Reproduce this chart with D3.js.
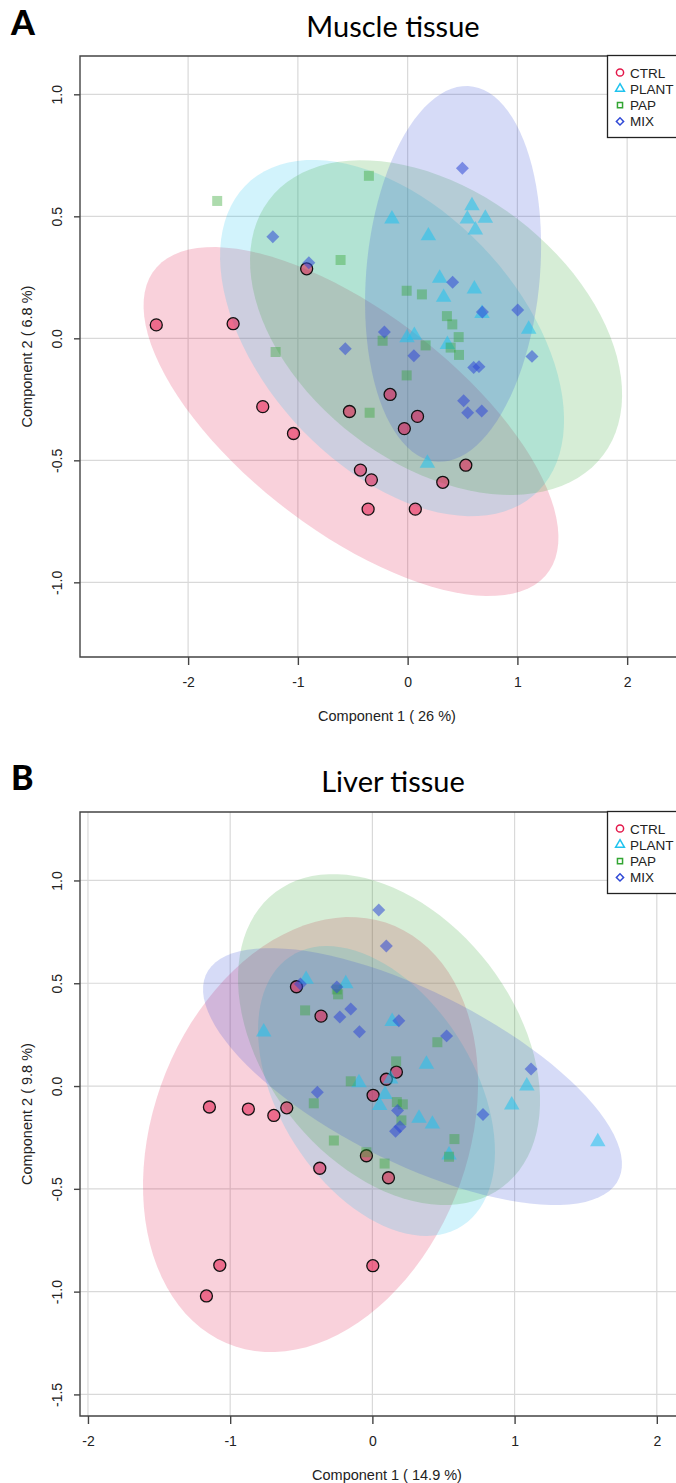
<!DOCTYPE html>
<html>
<head>
<meta charset="utf-8">
<script src="https://cdn.jsdelivr.net/npm/d3@7"></script>
<style>
  body { margin: 0; background: #fff; }
  svg { display: block; }
</style>
</head>
<body>
<div id="root"></div>
<script>
const W = 676, H = 1483;

const groups = ["CTRL", "PLANT", "PAP", "MIX"];
const groupColors = ["#e3184a", "#1fc3ee", "#33a633", "#3049d6"];

// panel A - muscle tissue, [component 1, component 2]
const muscleCTRL = [[-2.29, 0.055], [-1.59, 0.06], [-0.92, 0.285], [-1.32, -0.28], [-1.04, -0.39],
    [-0.53, -0.30], [-0.16, -0.23], [0.09, -0.32], [-0.03, -0.37], [-0.43, -0.54],
    [-0.33, -0.58], [-0.36, -0.70], [0.07, -0.70], [0.53, -0.52], [0.32, -0.59]];
const musclePLANT = [[0.586, 0.543], [-0.143, 0.489], [0.544, 0.489], [0.708, 0.492], [0.617, 0.444],
    [0.189, 0.420], [0.292, 0.246], [0.608, 0.202], [0.328, 0.168], [0.677, 0.102],
    [1.103, 0.037], [-0.006, 0.002], [0.061, 0.012], [0.362, -0.025], [0.180, -0.512]];
const musclePAP = [[-1.735, 0.563], [-0.353, 0.666], [-0.611, 0.321], [-1.203, -0.056], [-0.009, 0.195],
    [0.130, 0.180], [0.358, 0.091], [0.407, 0.057], [0.465, 0.005], [-0.228, -0.010],
    [0.164, -0.029], [0.392, -0.038], [0.468, -0.068], [-0.009, -0.152], [-0.346, -0.305]];
const muscleMIX = [[-1.228, 0.416], [-0.900, 0.310], [-0.568, -0.043], [0.499, 0.697], [0.410, 0.230],
    [0.681, 0.108], [1.003, 0.116], [-0.212, 0.026], [0.057, -0.071], [0.602, -0.120],
    [0.650, -0.116], [1.133, -0.074], [0.510, -0.256], [0.547, -0.305], [0.675, -0.298]];
// ellipses: [centre x, centre y, half width, half height, correlation]
const muscleEllipses = [[-0.516, -0.341, 1.890, 0.715, -0.665], [-0.142, 0.001, 1.567, 0.730, -0.46],
    [0.259, 0.044, 1.695, 0.686, -0.40], [0.414, 0.264, 0.802, 0.770, 0.15]];

// panel B - liver tissue
const liverCTRL = [[-0.534, 0.483], [-0.361, 0.340], [0.098, 0.033], [0.169, 0.068], [0.005, -0.045],
    [-1.146, -0.102], [-0.872, -0.112], [-0.693, -0.143], [-0.602, -0.106], [-0.370, -0.400],
    [-0.042, -0.339], [0.113, -0.446], [-1.073, -0.872], [0.003, -0.874], [-1.167, -1.021]];
const liverPLANT = [[-0.466, 0.519], [-0.187, 0.498], [-0.764, 0.263], [0.139, 0.314], [0.380, 0.106],
    [-0.094, 0.016], [0.128, 0.034], [0.089, -0.041], [0.051, -0.095], [0.328, -0.157],
    [0.422, -0.185], [0.539, -0.335], [1.086, 0.000], [0.980, -0.092], [1.585, -0.271]];
const liverPAP = [[-0.250, 0.470], [-0.241, 0.446], [-0.473, 0.368], [0.167, 0.120], [-0.152, 0.023],
    [-0.412, -0.084], [0.172, -0.078], [0.214, -0.089], [0.204, -0.167], [-0.271, -0.265],
    [0.457, 0.213], [0.577, -0.258], [0.539, -0.344], [0.086, -0.377], [-0.042, -0.322]];
const liverMIX = [[0.045, 0.856], [0.098, 0.681], [-0.506, 0.496], [-0.250, 0.482], [-0.152, 0.375],
    [-0.229, 0.336], [-0.091, 0.264], [0.186, 0.318], [0.522, 0.244], [1.116, 0.083],
    [0.778, -0.138], [-0.387, -0.030], [0.177, -0.119], [0.194, -0.198], [0.163, -0.220]];
const liverEllipses = [[-0.435, -0.236, 1.178, 1.058, 0.236], [0.029, -0.024, 0.833, 0.705, -0.42],
    [0.117, 0.226, 1.062, 0.805, -0.37], [0.282, 0.046, 1.473, 0.625, -0.68]];

const xTicks = [-2, -1, 0, 1, 2];
const muscleYTicks = [-1.0, -0.5, 0.0, 0.5, 1.0];
const liverYTicks = [-1.5, -1.0, -0.5, 0.0, 0.5, 1.0];

const panels = [
    {
        letter: "A", title: "Muscle tissue",
        xLabel: "Component 1 ( 26 %)", yLabel: "Component 2 ( 6.8 %)",
        series: [muscleCTRL, musclePLANT, musclePAP, muscleMIX], ellipses: muscleEllipses,
        yTicks: muscleYTicks,
        xDomain: [-2.985, 2.445], yDomain: [-1.306, 1.157],
        left: 80, right: 676, top: 56, bottom: 657, titleY: 37
    },
    {
        letter: "B", title: "Liver tissue",
        xLabel: "Component 1 ( 14.9 %)", yLabel: "Component 2 ( 9.8 %)",
        series: [liverCTRL, liverPLANT, liverPAP, liverMIX], ellipses: liverEllipses,
        yTicks: liverYTicks,
        xDomain: [-2.056, 2.135], yDomain: [-1.605, 1.333],
        left: 80, right: 676, top: 812, bottom: 1416, titleY: 792
    }
];

const svg = d3.select("#root").append("svg")
    .attr("width", W)
    .attr("height", H);

const fmt = d => d3.format(".1f")(d).replace("\u2212", "-");
const intFmt = d => String(d).replace("\u2212", "-");

// R-like marker shapes
function marker(g, i, x, y, col, legend) {
    if (i === 0) {
        g.append("circle").attr("cx", x).attr("cy", y).attr("r", legend ? 3.6 : 6)
            .attr("fill", legend ? "none" : col).attr("fill-opacity", legend ? null : 0.55)
            .attr("stroke", legend ? col : "#111").attr("stroke-width", legend ? 1.5 : 1.3);
    } else {
        const path = i === 1 ? d3.symbol(d3.symbolTriangle, legend ? 34 : 104)()
            : i === 2 ? d3.symbol(d3.symbolSquare, legend ? 26 : 100)()
            : d3.symbol(d3.symbolSquare, legend ? 26 : 84)();
        const p = g.append("path").attr("d", path)
            .attr("transform", "translate(" + x + "," + y + ")" + (i === 3 ? " rotate(45)" : ""));
        if (legend) p.attr("fill", "none").attr("stroke", col).attr("stroke-width", 1.5);
        else p.attr("fill", col).attr("fill-opacity", i === 2 ? 0.4 : 0.55);
    }
}

panels.forEach(p => {
    const xScale = d3.scaleLinear().domain(p.xDomain).range([p.left, p.right]);
    const yScale = d3.scaleLinear().domain(p.yDomain).range([p.bottom, p.top]);
    const g = svg.append("g");

    // panel letter and title
    g.append("text").attr("x", 11).attr("y", p.titleY - 2)
        .style("font-family", "Lato, 'Liberation Sans', sans-serif").style("font-weight", "900")
        .style("font-size", "34px").attr("fill", "#000").text(p.letter);
    g.append("text").attr("x", 393).attr("y", p.titleY).attr("text-anchor", "middle")
        .style("font-family", "Lato, 'Open Sans', sans-serif").style("font-size", "29px")
        .attr("fill", "#000").text(p.title);

    // grid
    g.append("g").selectAll("line").data(xTicks).enter().append("line")
        .attr("x1", d => xScale(d)).attr("x2", d => xScale(d))
        .attr("y1", p.top).attr("y2", p.bottom)
        .attr("stroke", "#d9d9d9").attr("stroke-width", 1.2);
    g.append("g").selectAll("line").data(p.yTicks).enter().append("line")
        .attr("x1", p.left).attr("x2", p.right + 20)
        .attr("y1", d => yScale(d)).attr("y2", d => yScale(d))
        .attr("stroke", "#d9d9d9").attr("stroke-width", 1.2);

    // confidence ellipses
    const line = d3.line().x(d => xScale(d[0])).y(d => yScale(d[1]));
    p.ellipses.forEach((e, i) => {
        const dd = Math.acos(e[4]);
        const pts = d3.range(0, 101).map(k => {
            const a = 2 * Math.PI * k / 100;
            return [e[0] + e[2] * Math.cos(a + dd / 2), e[1] + e[3] * Math.cos(a - dd / 2)];
        });
        g.append("path").attr("d", line(pts) + "Z")
            .attr("fill", groupColors[i]).attr("fill-opacity", 0.2).attr("stroke", "none");
    });

    // points
    const pg = g.append("g");
    p.series.forEach((s, i) => {
        s.forEach(d => marker(pg, i, xScale(d[0]), yScale(d[1]), groupColors[i], false));
    });

    // axes box
    g.append("path")
        .attr("d", "M" + (p.right + 20) + "," + p.top + "H" + p.left + "V" + p.bottom + "H" + (p.right + 20))
        .attr("fill", "none").attr("stroke", "#444").attr("stroke-width", 1.4);

    const axisFont = "'Liberation Sans', Arial, sans-serif";
    const xAxis = g.append("g").attr("transform", "translate(0," + p.bottom + ")")
        .call(d3.axisBottom(xScale).tickValues(xTicks).tickSize(8).tickPadding(12).tickFormat(intFmt));
    xAxis.select(".domain").remove();
    xAxis.selectAll("line").attr("stroke", "#444").attr("stroke-width", 1.4);
    xAxis.selectAll("text").style("font-family", axisFont).style("font-size", "14px").attr("fill", "#222");

    const yAxis = g.append("g").attr("transform", "translate(" + p.left + ",0)")
        .call(d3.axisLeft(yScale).tickValues(p.yTicks).tickSize(6).tickFormat(fmt));
    yAxis.select(".domain").remove();
    yAxis.selectAll("line").attr("stroke", "#444").attr("stroke-width", 1.4);
    yAxis.selectAll("text")
        .attr("x", null).attr("dy", null)
        .attr("text-anchor", "middle")
        .attr("transform", "translate(-18,0) rotate(-90)")
        .attr("y", 0)
        .style("font-family", axisFont).style("font-size", "14px").attr("fill", "#222");

    g.append("text").attr("x", 387).attr("y", p.bottom + 64).attr("text-anchor", "middle")
        .style("font-family", axisFont).style("font-size", "14.5px").attr("fill", "#222").text(p.xLabel);
    g.append("text")
        .attr("transform", "translate(32," + ((p.top + p.bottom) / 2) + ") rotate(-90)")
        .attr("text-anchor", "middle")
        .style("font-family", axisFont).style("font-size", "14.5px").attr("fill", "#222").text(p.yLabel);

    // legend
    const lg = g.append("g");
    lg.append("rect").attr("x", 607.5).attr("y", p.top - 0.5).attr("width", 80).attr("height", 82)
        .attr("fill", "#fff").attr("stroke", "#222").attr("stroke-width", 1.3);
    groups.forEach((name, i) => {
        const yy = p.top + 16.5 + i * 16.3;
        marker(lg, i, 620, yy, groupColors[i], true);
        lg.append("text").attr("x", 630).attr("y", yy + 5)
            .style("font-family", axisFont).style("font-size", "13.5px").attr("fill", "#222").text(name);
    });
});
</script>
</body>
</html>
